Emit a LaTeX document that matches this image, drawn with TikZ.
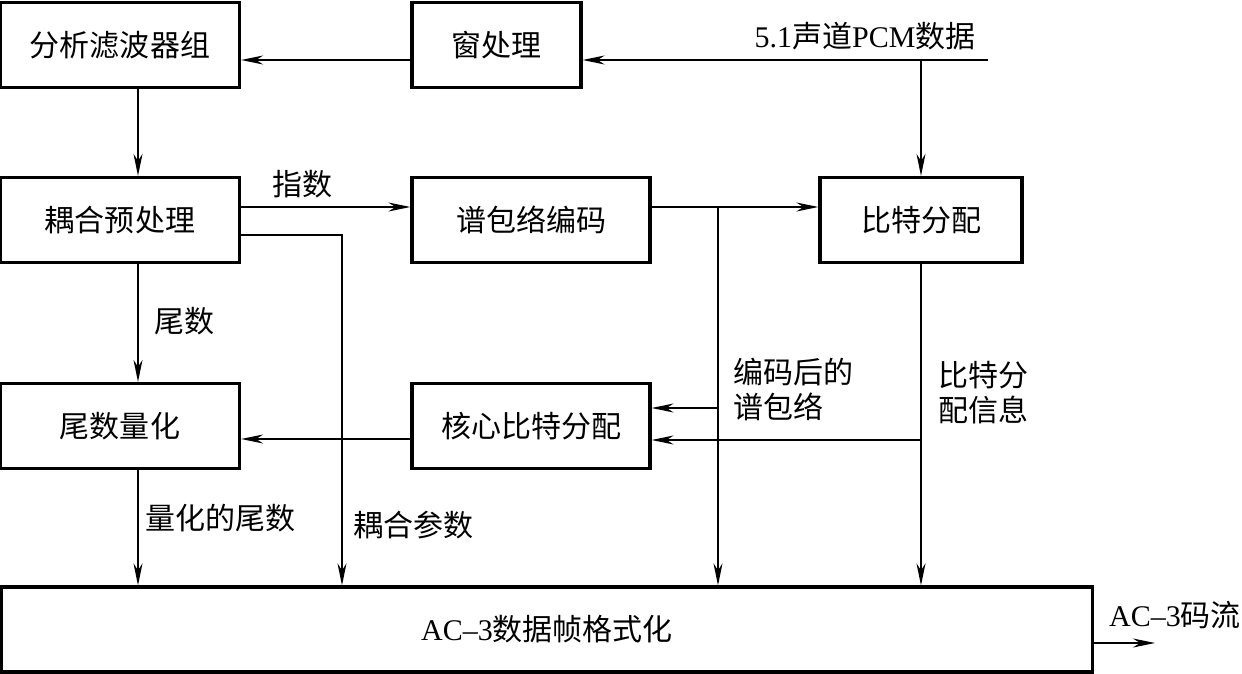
\documentclass[tikz,border=0pt]{standalone}
\usepackage{fontspec}
\setmainfont{Liberation Serif}
\newfontfamily\cjk{Noto Sans CJK SC}
\usetikzlibrary{arrows.meta}

\begin{document}
\begin{tikzpicture}[x=1bp,y=-1bp,
  font=\cjk\fontsize{30bp}{35bp}\selectfont,
  blk/.style={draw,line width=3.2bp,minimum width=#1,minimum height=85bp,inner sep=0pt},
  lbl/.style={inner sep=0pt},
  arr/.style={line width=1.7bp,-{Stealth[length=22bp,width=9bp,inset=7bp]}}]
\useasboundingbox (0,0) rectangle (1242,674);

\node (A) at (120,45)[blk=239bp] {分析滤波器组};
\node (W) at (496.5,45)[blk=169bp] {窗处理};
\node (C) at (120,220)[blk=239bp] {耦合预处理};
\node (S) at (531,220)[blk=238bp] {谱包络编码};
\node (B) at (921,220)[blk=202bp] {比特分配};
\node (Q) at (120,426)[blk=239bp] {尾数量化};
\node (K) at (531,426)[blk=238bp] {核心比特分配};
\node (F) at (547,629.5)[blk=1091bp] {{\rmfamily AC\textendash3}数据帧格式化};

\coordinate (in) at (988,60);
\coordinate (ev) at (718,207);
\coordinate (cp) at (342,235);
\coordinate (out) at (1155,643);

% input and first row
\draw [arr] (in) -- (in -| W.east);
\draw [arr] (in -| W.west) -- (in -| A.east);
\draw [arr] (in -| B.north) -- (B.north);
\draw [arr] ([xshift=18bp]A.south) -- ([xshift=18bp]C.north);

% coupling pre-processing outputs
\draw [arr] ([yshift=13bp]C.east) -- ([yshift=13bp]S.west);
\draw [arr] ([yshift=-15bp]C.east) -| (cp |- F.north);
\draw [arr] ([xshift=18bp]C.south) -- ([xshift=18bp]Q.north);
\draw [arr] ([xshift=18bp]Q.south) -- ([xshift=18bp]Q.south |- F.north);

% envelope and bit allocation
\draw [arr] ([yshift=13bp]S.east) -- ([yshift=13bp]B.west);
\draw [arr] (ev) -- (ev |- F.north);
\draw [arr] ([yshift=18bp]K.east -| ev) -- ([yshift=18bp]K.east);
\draw [arr] (B.south) -- (B.south |- F.north);
\draw [arr] ([yshift=-14bp]K.east -| B.south) -- ([yshift=-14bp]K.east);
\draw [arr] ([yshift=-13bp]K.west) -- ([yshift=-13bp]Q.east);
\draw [arr] (out -| F.east) -- (out);

\node (lpcm) at (865,36)[lbl] {{\rmfamily 5.1}声道{\rmfamily PCM}数据};
\node (lexp) at (302,184)[lbl] {指数};
\node (lman) at (184,321)[lbl] {尾数};
\node (lqm) at (220,518)[lbl] {量化的尾数};
\node (lcp) at (413,525)[lbl] {耦合参数};
\node (lenv) at (733,389)[lbl,anchor=west,align=left] {编码后的\\谱包络};
\node (lbit) at (938,393)[lbl,anchor=west,align=left] {比特分\\配信息};
\node (lout) at (1175,615)[lbl] {{\rmfamily AC\textendash3}码流};
\end{tikzpicture}
\end{document}
